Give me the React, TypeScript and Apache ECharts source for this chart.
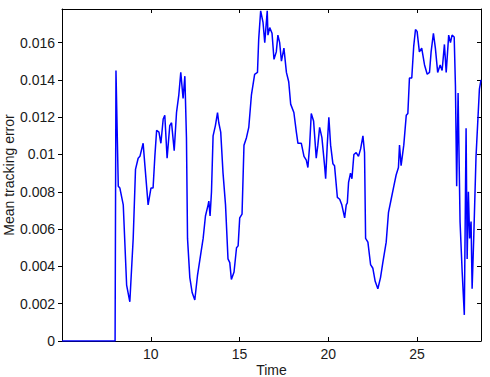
import React, { useEffect, useRef } from "react";
import * as echarts from "echarts";

const times: number[] = [
  5.0, 7.99, 8.04, 8.17, 8.26, 8.45, 8.64, 8.82, 9.01, 9.14,
  9.29, 9.39, 9.57, 9.67, 9.85, 10.01, 10.13, 10.23, 10.33, 10.46,
  10.57, 10.70, 10.79, 10.92, 11.07, 11.17, 11.32, 11.45, 11.58, 11.69,
  11.82, 11.92, 12.01, 12.07, 12.20, 12.33, 12.48, 12.63, 12.82, 12.95,
  13.08, 13.23, 13.27, 13.34, 13.42, 13.51, 13.64, 13.76, 13.83, 13.94,
  14.07, 14.21, 14.35, 14.45, 14.54, 14.69, 14.83, 14.92, 15.01, 15.14,
  15.25, 15.39, 15.52, 15.67, 15.85, 16.01, 16.08, 16.19, 16.32, 16.42,
  16.47, 16.56, 16.60, 16.70, 16.83, 16.94, 17.07, 17.16, 17.26, 17.36,
  17.50, 17.64, 17.77, 17.88, 18.06, 18.20, 18.29, 18.48, 18.63, 18.76,
  18.85, 18.95, 19.04, 19.17, 19.32, 19.41, 19.51, 19.64, 19.79, 19.85,
  19.94, 20.03, 20.13, 20.26, 20.35, 20.51, 20.64, 20.76, 20.92, 21.01,
  21.07, 21.14, 21.25, 21.33, 21.44, 21.57, 21.70, 21.82, 21.95, 22.04,
  22.10, 22.23, 22.38, 22.51, 22.64, 22.79, 22.94, 23.07, 23.26, 23.39,
  23.54, 23.69, 23.82, 23.95, 24.01, 24.10, 24.25, 24.39, 24.48, 24.57,
  24.70, 24.81, 24.91, 25.00, 25.13, 25.26, 25.42, 25.57, 25.70, 25.79,
  25.92, 26.03, 26.16, 26.30, 26.41, 26.54, 26.64, 26.78, 26.88, 26.97,
  27.09, 27.16, 27.23, 27.31, 27.42, 27.54, 27.66, 27.76, 27.82, 27.89,
  27.96, 28.04, 28.10, 28.19, 28.32, 28.51, 28.6,
];

const errors: number[] = [
  0, 0, 0.0145, 0.0083, 0.0082, 0.0073, 0.0030, 0.0021, 0.0055, 0.0092,
  0.0098, 0.0099, 0.0106, 0.0094, 0.0073, 0.0082, 0.0082, 0.0099, 0.0113, 0.0112,
  0.0106, 0.0119, 0.0121, 0.0098, 0.01155, 0.0117, 0.0102, 0.01225, 0.0132, 0.0144,
  0.0130, 0.0142, 0.0109, 0.0055, 0.0034, 0.0026, 0.0022, 0.0035, 0.0047, 0.0055,
  0.0067, 0.0073, 0.0075, 0.0067, 0.0080, 0.0110, 0.01155, 0.01225, 0.0117, 0.0112,
  0.0090, 0.0073, 0.0044, 0.0042, 0.0033, 0.0037, 0.0050, 0.0051, 0.0066, 0.0068,
  0.0105, 0.0109, 0.01145, 0.0132, 0.0143, 0.0144, 0.0162, 0.0177, 0.0171, 0.0160,
  0.0166, 0.0177, 0.0164, 0.0168, 0.0165, 0.0151, 0.0155, 0.0164, 0.0160, 0.0150,
  0.0157, 0.0144, 0.0139, 0.0127, 0.01225, 0.0112, 0.0106, 0.0106, 0.0099, 0.0097,
  0.0093, 0.0105, 0.0122, 0.0118, 0.0098, 0.0105, 0.01145, 0.0109, 0.0094, 0.0087,
  0.0105, 0.0120, 0.0105, 0.0095, 0.0094, 0.0077, 0.0076, 0.0073, 0.0066, 0.0073,
  0.0074, 0.0085, 0.0090, 0.0087, 0.0100, 0.0101, 0.0099, 0.0103, 0.0110, 0.0101,
  0.0055, 0.0053, 0.0041, 0.0039, 0.0032, 0.0028, 0.0034, 0.0042, 0.0053, 0.0069,
  0.0076, 0.0083, 0.0089, 0.0093, 0.0105, 0.0094, 0.0105, 0.0121, 0.0122, 0.0141,
  0.0141, 0.0158, 0.0167, 0.0166, 0.0155, 0.0157, 0.0148, 0.0143, 0.0144, 0.0155,
  0.0165, 0.0157, 0.0144, 0.0148, 0.0145, 0.0159, 0.0144, 0.0164, 0.0160, 0.0164,
  0.0163, 0.0137, 0.0083, 0.0133, 0.0064, 0.0037, 0.0014, 0.0114, 0.0044, 0.0080,
  0.0055, 0.0064, 0.0028, 0.0055, 0.0099, 0.0135, 0.0140,
];

const xTickValues: number[] = [10, 15, 20, 25];
const yTickValues: number[] = [0, 0.002, 0.004, 0.006, 0.008, 0.01, 0.012, 0.014, 0.016];

const X_MIN = 5;
const X_MAX = 28.6;
const Y_MIN = 0;
const Y_MAX = 0.0178;

const FONT = "'Liberation Sans', Arial, Helvetica, sans-serif";
const TEXT_COLOR = "#1a1a1a";

export default function App() {
  const ref = useRef<HTMLDivElement>(null);

  useEffect(() => {
    if (!ref.current) return;
    const chart = echarts.init(ref.current, undefined, { renderer: "svg" });
    const data = times.map((t, i) => [t, errors[i]]);
    const axisLine = { show: true, onZero: false, lineStyle: { color: "#000", width: 1 } };

    chart.setOption({
      animation: false,
      backgroundColor: "#fff",
      grid: { left: 62, right: 9, top: 9, bottom: 36, containLabel: false, outerBoundsMode: "none" },
      xAxis: [
        {
          type: "value",
          position: "bottom",
          min: X_MIN,
          max: X_MAX,
          interval: 5,
          name: "Time",
          nameLocation: "middle",
          nameGap: 22,
          nameMoveOverlap: false,
          nameTextStyle: { fontFamily: FONT, fontSize: 14, lineHeight: 14, color: TEXT_COLOR },
          axisLine,
          axisTick: { show: true, inside: true, length: 4, customValues: xTickValues, lineStyle: { color: "#000" } },
          axisLabel: {
            show: true,
            customValues: xTickValues,
            margin: 6,
            fontFamily: FONT,
            fontSize: 14,
            color: TEXT_COLOR,
          },
          splitLine: { show: false },
        },
        {
          type: "value",
          position: "top",
          min: X_MIN,
          max: X_MAX,
          interval: 5,
          axisLine,
          axisTick: { show: true, inside: true, length: 4, customValues: xTickValues, lineStyle: { color: "#000" } },
          axisLabel: { show: false },
          splitLine: { show: false },
        },
      ],
      yAxis: [
        {
          type: "value",
          position: "left",
          min: Y_MIN,
          max: Y_MAX,
          interval: 0.002,
          name: "Mean tracking error",
          nameLocation: "middle",
          nameGap: 46,
          nameRotate: 90,
          nameMoveOverlap: false,
          nameTextStyle: { fontFamily: FONT, fontSize: 14, lineHeight: 14, color: TEXT_COLOR },
          axisLine,
          axisTick: { show: true, inside: false, length: 4, customValues: yTickValues, lineStyle: { color: "#000" } },
          axisLabel: {
            show: true,
            customValues: yTickValues,
            margin: 7,
            fontFamily: FONT,
            fontSize: 14,
            color: TEXT_COLOR,
          },
          splitLine: { show: false },
        },
        {
          type: "value",
          position: "right",
          min: Y_MIN,
          max: Y_MAX,
          interval: 0.002,
          axisLine,
          axisTick: { show: true, inside: true, length: 4, customValues: yTickValues, lineStyle: { color: "#000" } },
          axisLabel: { show: false },
          splitLine: { show: false },
        },
      ],
      series: [
        {
          type: "line",
          xAxisIndex: 0,
          yAxisIndex: 0,
          data,
          showSymbol: false,
          symbol: "none",
          lineStyle: { color: "#0000ff", width: 1.5 },
          clip: true,
        },
      ],
    });

    return () => chart.dispose();
  }, []);

  return (
    <div
      ref={ref}
      style={{ position: "fixed", left: 0, top: 0, width: 490, height: 377, background: "#fff" }}
    />
  );
}
